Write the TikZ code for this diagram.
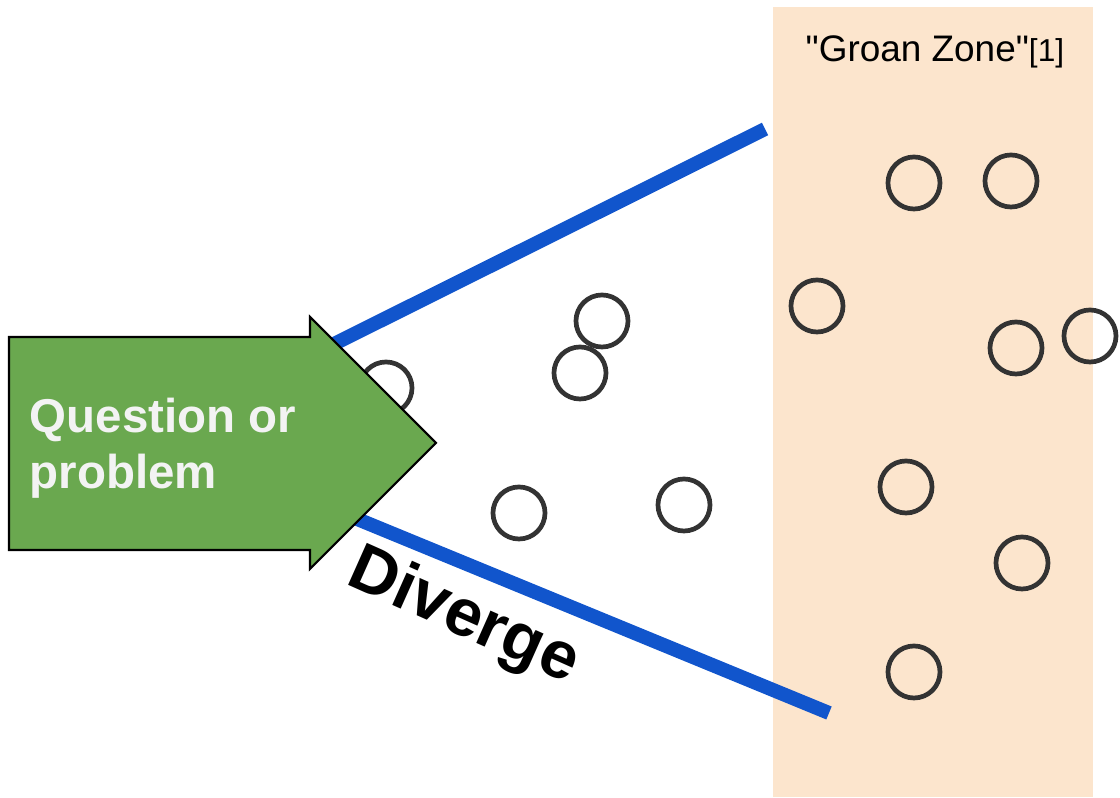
\documentclass[tikz,border=0pt]{standalone}
\usepackage{fontspec}
\setmainfont{Liberation Sans}[Ligatures=TeXOff]
\definecolor{zonefill}{HTML}{FCE5CD}
\definecolor{arrowgreen}{HTML}{6AA84F}
\definecolor{lineblue}{HTML}{1155CC}
\definecolor{ringgray}{HTML}{333333}
\definecolor{qtext}{HTML}{F3F3F3}
\begin{document}
\begin{tikzpicture}[x=0.01cm,y=-0.01cm,
  ring/.style={circle,draw=ringgray,line width=0.047cm,minimum size=0.52cm,inner sep=0pt},
  bluebar/.style={draw=lineblue,line width=0.14cm},
  qlabel/.style={anchor=base west,inner sep=0pt,text=qtext,font=\fontsize{13.5}{16}\selectfont\bfseries}]
\useasboundingbox (0,0) rectangle (1120,798);
% groan zone background
\fill[zonefill] (773,7) rectangle (1093,797);
\node[anchor=base west,inner sep=0pt,font=\fontsize{10.5}{12}\selectfont] (gz) at (805,62) {"Groan Zone"{\fontsize{9}{10}\selectfont[1]}};
% divergence lines
\coordinate (ua) at (330,346);
\coordinate (ub) at (765,129);
\coordinate (la) at (345,514);
\coordinate (lb) at (829,713);
\draw[bluebar] (ua) -- (ub);
\draw[bluebar] (la) -- (lb);
% ideas
\node[ring] (c1) at (386,388) {};
\node[ring] (c2) at (602,321) {};
\node[ring] (c3) at (580,373) {};
\node[ring] (c4) at (519,513) {};
\node[ring] (c5) at (684,505) {};
\node[ring] (c6) at (914,183) {};
\node[ring] (c7) at (1011,181) {};
\node[ring] (c8) at (817,306) {};
\node[ring] (c9) at (1016,348) {};
\node[ring] (c10) at (1090,336) {};
\node[ring] (c11) at (906,487) {};
\node[ring] (c12) at (1022,563) {};
\node[ring] (c13) at (914,672) {};
% arrow
\draw[fill=arrowgreen,draw=black,line width=0.6pt,line join=miter]
  (9,337) -- (310,337) -- (310,317) -- (436,443) -- (310,569) -- (310,550) -- (9,550) -- cycle;
\node[qlabel] (q1) at (29,433) {Question or};
\node[qlabel] (q2) at (29,489) {problem};
% diverge label
\node[rotate=-24,inner sep=0pt,font=\fontsize{19}{21}\selectfont\bfseries] (dv) at (463,618) {Diverge};
\end{tikzpicture}
\end{document}
